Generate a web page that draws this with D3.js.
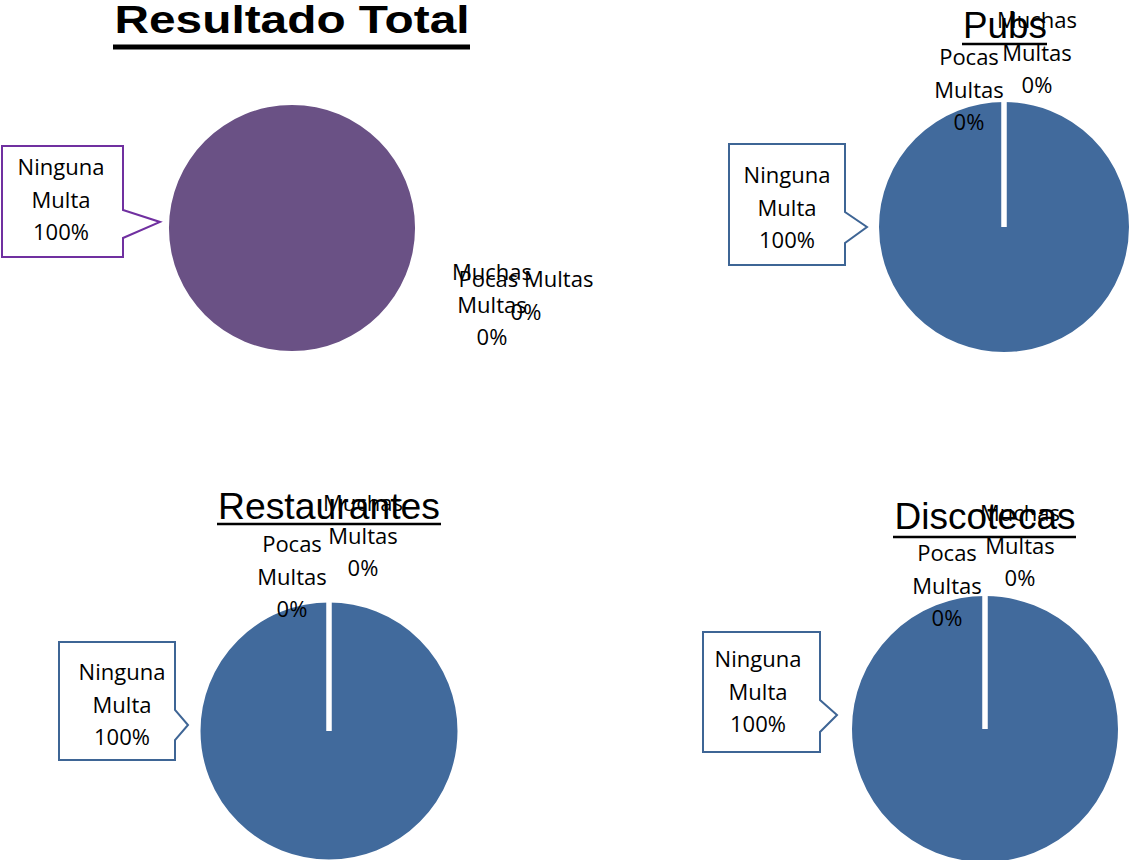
<!DOCTYPE html>
<html>
<head>
<meta charset="utf-8">
<script src="https://cdn.jsdelivr.net/npm/d3@7"></script>
<style>
  html, body { margin: 0; padding: 0; background: #fff; }
  svg { display: block; }
</style>
</head>
<body>
<svg id="chart" width="1129" height="860"></svg>
<script>
// ---- data ----
const categories = ["Ninguna Multa", "Pocas Multas", "Muchas Multas"];
const charts = ["Resultado Total", "Pubs", "Restaurantes", "Discotecas"];
const valuesTotal = [100, 0, 0];
const valuesPubs = [100, 0, 0];
const valuesRestaurantes = [100, 0, 0];
const valuesDiscotecas = [100, 0, 0];
const seriesValues = [valuesTotal, valuesPubs, valuesRestaurantes, valuesDiscotecas];

// ---- layout (positions / styles) ----
const layout = [
  { cx: 292, cy: 228, r: 123, fill: "#6A5185", sliceStroke: "none", calloutStroke: "#7030A0",
    title: { x: 292, y: 33, size: 39, bold: true, len: 355, ulY: 47, ulW: 5, ulX0: 113, ulX1: 470 },
    box: { x0: 2, x1: 123, y0: 146, y1: 257, b0: 210, b1: 238, tx: 160, ty: 222, textX: 61, textY: 175 },
    labels: [
      null,
      { x: 526, y: 287, lines: ["Pocas Multas", "0%"] },
      { x: 492, y: 280, lines: ["Muchas", "Multas", "0%"] }
    ] },
  { cx: 1004, cy: 227, r: 127.5, fill: "#416A9C", sliceStroke: "#fff", calloutStroke: "#3E6595",
    title: { x: 1005, y: 38, size: 37, bold: false, len: 84, ulY: 44, ulW: 2.5, ulX0: 962, ulX1: 1047 },
    box: { x0: 729, x1: 845, y0: 144, y1: 265, b0: 212, b1: 243, tx: 867, ty: 227, textX: 787, textY: 183 },
    labels: [
      null,
      { x: 969, y: 65, lines: ["Pocas", "Multas", "0%"] },
      { x: 1037, y: 28, lines: ["Muchas", "Multas", "0%"] }
    ] },
  { cx: 329, cy: 731, r: 131, fill: "#416A9C", sliceStroke: "#fff", calloutStroke: "#3E6595",
    title: { x: 329, y: 519, size: 37, bold: false, len: 222, ulY: 524, ulW: 2.5, ulX0: 217, ulX1: 441 },
    box: { x0: 59, x1: 175, y0: 642, y1: 760, b0: 710, b1: 740, tx: 188, ty: 725, textX: 122, textY: 680 },
    labels: [
      null,
      { x: 292, y: 552, lines: ["Pocas", "Multas", "0%"] },
      { x: 363, y: 511, lines: ["Muchas", "Multas", "0%"] }
    ] },
  { cx: 985, cy: 729, r: 135.5, fill: "#416A9C", sliceStroke: "#fff", calloutStroke: "#3E6595",
    title: { x: 985, y: 529, size: 37, bold: false, len: 181, ulY: 537, ulW: 2.5, ulX0: 893, ulX1: 1076 },
    box: { x0: 703, x1: 820, y0: 632, y1: 752, b0: 700, b1: 732, tx: 837, ty: 715, textX: 758, textY: 667 },
    labels: [
      null,
      { x: 947, y: 561, lines: ["Pocas", "Multas", "0%"] },
      { x: 1020, y: 521, lines: ["Muchas", "Multas", "0%"] }
    ] }
];

const labelFont = "'Open Sans', sans-serif";
const labelSize = 22;
const lineH = 32.5;

const svg = d3.select("#chart");
const pie = d3.pie().sort(null).value(d => d).startAngle(0).endAngle(2 * Math.PI);
const fmt = d3.format(".0%");

charts.forEach((name, i) => {
  const L = layout[i];
  const vals = seriesValues[i];
  const total = d3.sum(vals);
  const g = svg.append("g");

  // pie
  const arc = d3.arc().innerRadius(0).outerRadius(L.r);
  const pg = g.append("g").attr("transform", `translate(${L.cx},${L.cy})`);
  pg.selectAll("path").data(pie(vals)).join("path")
    .attr("d", arc)
    .attr("fill", L.fill)
    .attr("stroke", L.sliceStroke)
    .attr("stroke-width", L.sliceStroke === "none" ? 0 : 5)
    .attr("stroke-linejoin", "miter");

  // title
  const T = L.title;
  g.append("text")
    .attr("x", T.x).attr("y", T.y)
    .attr("text-anchor", "middle")
    .attr("font-family", "Arial, 'Liberation Sans', sans-serif")
    .attr("font-size", T.size)
    .attr("font-weight", T.bold ? "bold" : "normal")
    .attr("textLength", T.len)
    .attr("lengthAdjust", "spacingAndGlyphs")
    .attr("fill", "#000")
    .text(name);
  g.append("line")
    .attr("x1", T.ulX0).attr("x2", T.ulX1)
    .attr("y1", T.ulY).attr("y2", T.ulY)
    .attr("stroke", "#000").attr("stroke-width", T.ulW);

  // callout for first category
  const B = L.box;
  const p = d3.path();
  p.moveTo(B.x0, B.y0);
  p.lineTo(B.x1, B.y0);
  p.lineTo(B.x1, B.b0);
  p.lineTo(B.tx, B.ty);
  p.lineTo(B.x1, B.b1);
  p.lineTo(B.x1, B.y1);
  p.lineTo(B.x0, B.y1);
  p.closePath();
  g.append("path").attr("d", p.toString())
    .attr("fill", "#fff").attr("stroke", L.calloutStroke).attr("stroke-width", 2);
  const words = categories[0].split(" ").concat([fmt(vals[0] / total)]);
  const ct = g.append("text")
    .attr("text-anchor", "middle")
    .attr("font-family", labelFont).attr("font-size", labelSize).attr("fill", "#000");
  words.forEach((w, k) => {
    ct.append("tspan").attr("x", B.textX).attr("y", B.textY + k * lineH).text(w);
  });

  // zero-slice labels
  L.labels.forEach((lab, k) => {
    if (!lab) return;
    const pct = fmt(vals[k] / total);
    const t = g.append("text")
      .attr("text-anchor", "middle")
      .attr("font-family", labelFont).attr("font-size", labelSize).attr("fill", "#000");
    lab.lines.forEach((ln, j) => {
      const txt = ln === "0%" ? pct : ln;
      t.append("tspan").attr("x", lab.x).attr("y", lab.y + j * lineH).text(txt);
    });
  });
});
</script>
</body>
</html>
